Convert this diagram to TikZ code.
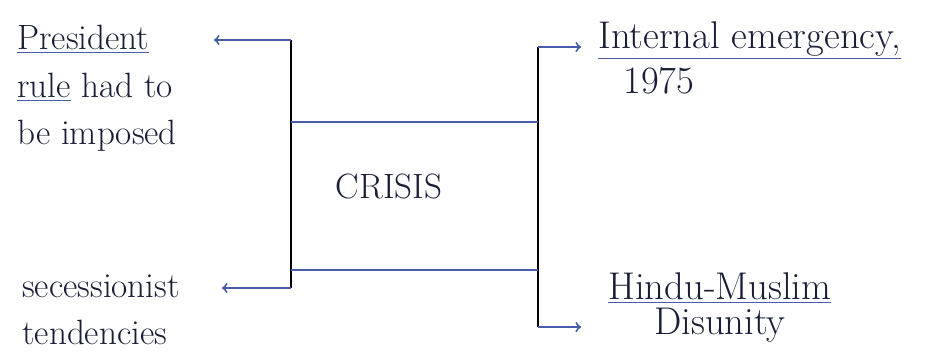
\documentclass[tikz,border=0pt]{standalone}
\usepackage{tikz}
\usetikzlibrary{positioning}
\usepackage{xcolor}
\definecolor{penblue}{RGB}{72,92,172}
\definecolor{ink}{RGB}{25,30,55}
\newcommand{\penul}[1]{{\color{penblue}\underline{\color{ink}#1}}}

\begin{document}
\begin{tikzpicture}[
        spine/.style={black,line width=1.6pt},
        pen/.style={penblue,line width=1.1pt},
        txt/.style={ink,font=\fontsize{20}{27}\selectfont,inner sep=0pt,align=left}]
                \useasboundingbox (0,0) rectangle (18.66,7.12);
                \coordinate (lt) at (5.82,6.32);
                \coordinate (lb) at (5.82,1.36);
                \coordinate (rt) at (10.76,6.18);
                \coordinate (rb) at (10.76,0.58);
                \coordinate (lu) at (5.82,4.68);
                \coordinate (ru) at (10.76,4.68);
                \coordinate (ld) at (5.82,1.72);
                \coordinate (rd) at (10.76,1.72);
                \coordinate (ptip) at (4.28,6.32);
                \coordinate (stip) at (4.44,1.36);
                \coordinate (etip) at (11.62,6.18);
                \coordinate (dtip) at (11.62,0.58);
                \node[txt,anchor=north west] (pres) at (0.34,6.62) {\penul{President}\\ \penul{rule} had to\\ be imposed};
                \node[txt,anchor=north west] (seces) at (0.44,1.64) {secessionist\\ tendencies};
                \node[txt,anchor=north west,font=\fontsize{22}{26}\selectfont] (emerg) at (11.96,6.7) {\penul{Internal emergency,}\\ \hspace{0.5cm}1975};
                \node[txt,align=center,anchor=north west,font=\fontsize{22}{20}\selectfont] (disun) at (12.16,1.68) {\penul{Hindu-Muslim}\\ Disunity};
                \node[txt] (crisis) at (7.78,3.4) {CRISIS};
                \draw[spine] (lt) -- (lb);
                \draw[spine] (rt) -- (rb);
                \draw[pen] (lu) -- (ru);
                \draw[pen] (ld) -- (rd);
                \draw[pen,->] (lt) -- (ptip);
                \draw[pen,->] (lb) -- (stip);
                \draw[pen,->] (rt) -- (etip);
                \draw[pen,->] (rb) -- (dtip);
            \end{tikzpicture}
\end{document}
